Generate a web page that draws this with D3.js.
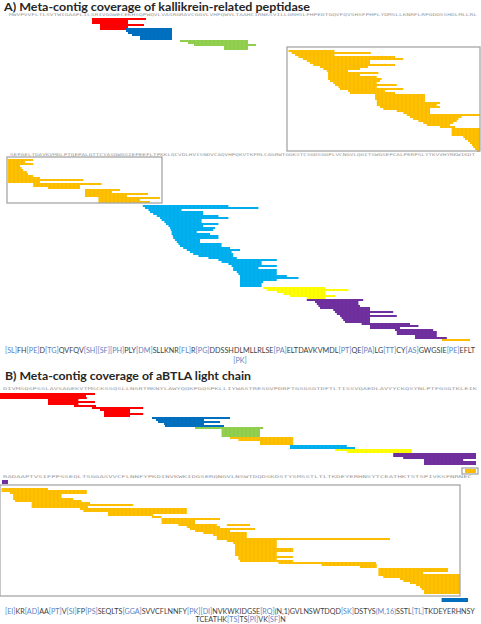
<!DOCTYPE html>
<html><head><meta charset="utf-8">
<script src="https://cdn.jsdelivr.net/npm/d3@7"></script>
<style>body{margin:0;background:#fff}svg{display:block}</style>
</head><body><svg id="c" width="481" height="624"></svg>
<script>
// ---------- text ----------
const titleA = "A) Meta-contig coverage of kallikrein-related peptidase";
const titleB = "B) Meta-contig coverage of aBTLA light chain";
const seqA1 = "MWVPVVFLTLSVTWIGAAPLILSRIVGGWECEKHSQPWQVLVASRGRAVCGGVLVHPQWVLTAAHCIRNKSVILLGRHSLFHPEDTGQVFQVSHSFPHPLYDMSLLKNRFLRPGDDSSHDLMLLRL";
const seqA2 = "SEPAELTDAVKVMDLPTQEPALGTTCYASGWGSIEPEEFLTPKKLQCVDLHVISNDVCAQVHPQKVTKFMLCAGRWTGGKSTCSGDSGGPLVCNGVLQGITSWGSEPCALPERPSLYTKVVHYRKWIKDT";
const seqB1 = "DIVMSQSPSSLAVSAGEKVTMSCKSSQSLLNSRTRKNYLAWYQQKPGQSPKLLIYWASTRESGVPDRFTGSGSGTDFTLTISSVQAEDLAVYYCKQSYNLPTFGSGTKLEIK";
const seqB2 = "RADAAPTVSIFPPSSEQLTSGGASVVCFLNNFYPKDINVKWKIDGSERQNGVLNSWTDQDSKDSTYSMSSTLTLTKDEYERHNSYTCEATHKTSTSPIVKSFNRNEC";
const varA1 = "[SL]FH[PE]D[TG]QVFQV[SH][SF][PH]PLY[DM]SLLKNR[FL]R[PG]DDSSHDLMLLRLSE[PA]ELTDAVKVMDL[PT]QE[PA]LG[TT]CY[AS]GWGSIE[PE]EFLT";
const varA2 = "[PK]";
const varB1 = "[EI]KR[AD]AA[PT]V[SI]FP[PS]SEQLTS[GGA]SVVCFLNNFY[PK][DI]NVKWKIDGSE[RQ](N,1)GVLNSWTDQD[SK]DSTYS(M,16)SSTL[TL]TKDEYERHNSY";
const varB2 = "TCEATHK[TS]TS[PI]VK[SF]N";

const palette = {red:"#ff0000", blue:"#0070c0", green:"#92d050", orange:"#ffc000",
                 cyan:"#00b0f0", yellow:"#ffff00", purple:"#7030a0"};

// ---------- reads: [start residue, end residue, row] ----------
const readsA1Red = [[21,34.5,0],[21,30,1],[21,30,2],[23,34,3],[23,30,4],[23,30,5]];
const readsA1Blue = [[29.5,41,5],[29.5,41,6],[30,41,7],[31,41,8],[33,41,9],[33,41,10]];
const readsA1Green = [[43,60,11],[45,60,12],[46.5,62,13],[54,60,14],[54,60,15]];
const readsA1Orange = [
 [70.1,81.6,16],[70.9,90.7,17],[71.75,81.6,18],[72.6,96.75,19],[73.7,98.8,20],
 [74.7,90.5,21],[75.5,90.5,22],[76.3,96.75,23],[78,90,24],[78.8,88,25],
 [79.7,85,26],[80,92.6,27],[80,88,28],[80,92.2,29],[80,93.4,30],
 [80.5,93,31],[81.3,92.2,32],[81.75,97.2,33],[82.6,92.2,34],[83,98.8,35],
 [85,94.25,36],[85.5,96.75,37],[91.75,104.25,38],[91.75,104.25,39],[91.75,104.25,40],
 [92.2,104.25,41],[92.2,108,42],[92.2,107.2,43],[93,108,44],[93.8,105.5,45],
 [97.2,105.5,46],[98.8,105.5,47],[99.7,118,48],[100.5,113.4,49],[101.3,112.6,50],
 [102.6,112.2,51],[103.8,111.3,52],[104.7,110.5,53],[108,111.75,54],[110.9,118,55],
 [110.9,118,56],[110.9,118,57],[110.9,118,58],[113.8,118,59],[114.25,118,60],
 [115,118,61],[115.5,118,62],[116,118,63],[116.3,118,64],[116.75,118,65],[117.2,118,66]];

const readsA2Orange = [
 [0,6.3,1],[0,4.25,2],[0,6.3,3],[0,3,4],[0,3.4,5],[0,3.8,6],[0,4.7,7],[0,5,8],
 [0,6.3,9],[0,8,10],[0,18.8,11],[0,8,12],[6.3,23.4,13],[6.3,18,14],[10,18,15],
 [19.25,28,16],[19.25,26,17],[19.25,35,18],[19.25,29.7,19],[22.6,38,20],[22.6,33,21],[22.6,35.5,22]];
const readsA2Cyan = [
 [33.7,55.1,24],[34.25,62.6,25],[35.1,43.4,26],[35.5,48.8,27],[36.3,48.8,28],
 [37.2,52.6,29],[38,55.1,30],[38.4,48.4,31],[39.1,48.4,32],[39.5,52.6,33],
 [40.1,48.8,34],[40.5,51.75,35],[40.7,51.3,36],[40.9,47.2,37],[40.9,50.5,38],
 [41.2,52.6,39],[41.3,52.6,40],[41.75,48,41],[42.2,48,42],[42.6,53.4,43],
 [43,53.4,44],[43.8,55.5,45],[44.7,58,46],[45.5,55.9,47],[46.3,56.3,48],
 [47.6,56.3,49],[50.1,57.2,50],[52.6,67.2,51],[53.4,63.4,52],[55.1,63.4,53],
 [55.9,67.2,54],[56.3,62.6,55],[56.3,67.2,56],[57.2,67.2,57],[57.6,67.2,58],
 [58,69.7,59],[58,72.6,60],[58,67.2,61],[58,63.8,62],[58,63.4,63],[58,63.4,64]];
const readsA2Yellow = [[63.8,79.25,65],[64.7,85.1,66],[67.2,79.25,67],[68.8,79.25,68],[70.5,81.75,69],[74.7,79.25,70]];
const readsA2Purple = [
 [74.7,88.8,71],[76.75,87.6,72],[77.2,87.6,73],[77.6,88,74],[78,90.5,75],
 [81.3,90.5,76],[81.75,96.3,77],[82.2,90.5,78],[83,97.2,79],[83.4,90.5,80],
 [83.8,90.5,81],[84.25,90.5,82],[88.4,100.5,83],[90.5,102.6,84],[90.5,98,85],
 [96.75,106.3,86],[97.2,107.2,87],[97.2,107.2,88],[101.75,107.2,89],[101.75,109.7,90]];
const readsA2Orange2 = [[108.5,115.5,91]];

const readsB1Red = [[0,23.75,0],[0,21.5,1],[0,21.7,2],[12,19.6,3],[12,23.75,4],[12,19.6,5],
 [18.5,24,6],[23,35.8,7],[25,32.5,8],[26,32.5,9],[26,35.8,10],[26,32.5,11]];
const readsB1Blue = [[38,57.5,12],[39,51,13],[39.5,55,14],[41,51,15],[41.25,56,16]];
const readsB1Green = [[48.75,65.8,17],[55.4,65,18],[55.4,65,19],[55.4,65,20],[55.4,65,21]];
const readsB1Orange = [[57.5,73.3,22],[59.6,73.3,23],[65,73.3,24],[65,73.3,25]];
const readsB1Cyan = [[72.5,86.7,26],[72.5,88.75,27]];
const readsB1Yellow = [[83.75,103,28],[86.7,103,29]];
const readsB1Purple = [[98.3,119,30],[98.3,119,31],[100.8,119,32],[106,115.8,33],[106,119,34],[106,119,35]];
const readsB1Orange2 = [[116.25,119,38],[116.25,119,39]];

const readsB2Purple = [[0.5,2,0],[0.5,2,1]];
const readsB2Orange = [
 [0.4,12,4],[0.4,21.7,5],[2.5,21.7,6],[3.3,15.4,7],[3.3,15.4,8],[3.3,18.3,9],
 [3.75,20.4,10],[7.9,22.5,11],[7.9,33.3,12],[7.9,22,13],[20,46.7,14],[20.8,46.7,15],
 [27,46.7,16],[27,38.3,17],[38,40.4,18],[40.4,55,19],[40.4,48.75,20],[40.4,48.75,21],
 [44.6,54.2,22],[56.7,62.5,22],[46.7,55,23],[47.5,63.75,24],[48.75,57.5,25],[50.8,61.7,26],
 [53.3,61.7,27],[54.2,61.7,28],[54.2,97.5,29],[56.7,69.2,30],[58.3,69.2,31],[58.75,69.2,32],
 [58.75,69.2,33],[58.75,73.3,34],[58.75,73.3,35],[58.75,69.2,36],[58.75,69.2,37],[59.6,73.3,38],
 [59.6,69.2,39],[60,73.3,40],[69.6,94,41],[80.4,94.2,42],[90,94.2,43],[94.6,112,44],
 [94.6,112,45],[94.6,105.8,46],[94.6,115,47],[95.8,115,48],[100,115,49],[100.8,115,50],
 [102.5,115,51],[104,115,52],[105,115,53],[105.4,115,54],[106,115,55],[106,115,56]];
const readsB2Blue = [[110.4,117,59],[110.4,117,60]];

// boxes: [startRes, endRes, topRow, bottomRow]
const boxesA1 = [[69.75,118,14.5,66.5]];
const boxesA2 = [[-0.25,38.5,0,23]];
const boxesB1 = [[115.5,119.5,37.5,40.5]];
const boxesB2 = [[0,115,2.5,58]];

// ---------- drawing ----------
const svg = d3.select("#c");
const xA = d3.scaleLinear().domain([0,117]).range([8,476]);
const xB = d3.scaleLinear().domain([0,120]).range([0,480]);
const rowScale = top => d3.scaleLinear().domain([0,1]).range([top, top+2]);

const defs = svg.append("defs");
const pat = defs.append("pattern").attr("id","tex").attr("patternUnits","userSpaceOnUse")
  .attr("width",4).attr("height",2);
pat.append("rect").attr("x",1.2).attr("y",0.6).attr("width",1.6).attr("height",0.8)
  .attr("fill","#000").attr("opacity",0.06);

const sections = [
  {x:xA, top:18, seq:seqA1, seqY:15, seqX:[9,477],
   groups:[["red",readsA1Red],["blue",readsA1Blue],["green",readsA1Green],["orange",readsA1Orange]], boxes:boxesA1},
  {x:xA, top:157, seq:seqA2, seqY:155, seqX:[10,475],
   groups:[["orange",readsA2Orange],["cyan",readsA2Cyan],["yellow",readsA2Yellow],["purple",readsA2Purple],["orange",readsA2Orange2]], boxes:boxesA2},
  {x:xB, top:393, seq:seqB1, seqY:389, seqX:[3,477],
   groups:[["red",readsB1Red],["blue",readsB1Blue],["green",readsB1Green],["orange",readsB1Orange],["cyan",readsB1Cyan],["yellow",readsB1Yellow],["purple",readsB1Purple],["orange",readsB1Orange2]], boxes:boxesB1},
  {x:xB, top:480, seq:seqB2, seqY:477, seqX:[3,472],
   groups:[["purple",readsB2Purple],["orange",readsB2Orange],["blue",readsB2Blue]], boxes:boxesB2}
];

sections.forEach(sec => {
  const y = rowScale(sec.top);
  svg.append("text").attr("x",sec.seqX[0]).attr("y",sec.seqY+1.4)
    .attr("font-family","DejaVu Sans Mono").attr("font-size",3.8).attr("fill","#9a9a9a")
    .attr("textLength",sec.seqX[1]-sec.seqX[0]).attr("lengthAdjust","spacingAndGlyphs")
    .text(sec.seq);
  const g = svg.append("g");
  sec.groups.forEach(([col, reads]) => {
    g.selectAll(null).data(reads).join("rect")
      .attr("x", d => sec.x(d[0])).attr("width", d => sec.x(d[1]) - sec.x(d[0]))
      .attr("y", d => y(d[2])).attr("height", d => y(d[2]+1) - y(d[2]))
      .attr("fill", palette[col]);
    g.selectAll(null).data(reads).join("rect")
      .attr("x", d => sec.x(d[0])).attr("width", d => sec.x(d[1]) - sec.x(d[0]))
      .attr("y", d => y(d[2])).attr("height", d => y(d[2]+1) - y(d[2]))
      .attr("fill", "url(#tex)");
  });
  svg.append("g").selectAll("rect").data(sec.boxes).join("rect")
    .attr("x", d => sec.x(d[0])).attr("width", d => sec.x(d[1]) - sec.x(d[0]))
    .attr("y", d => y(d[2])).attr("height", d => y(d[3]) - y(d[2]))
    .attr("fill","none").attr("stroke","#a6a6a6").attr("stroke-width",1.3);
});

// titles
function title(txt, x, yb, w){
  svg.append("text").attr("x",x).attr("y",yb).attr("font-family","Lato")
    .attr("font-weight","bold").attr("font-size",11.5).attr("fill","#262626")
    .attr("textLength",w).attr("lengthAdjust","spacingAndGlyphs").text(txt);
}
title(titleA, 4, 11, 306);
title(titleB, 5, 380, 246);

// variant strings: tokens laid out one after another
function tokenize(txt){ return txt.match(/\[[^\]]*\]|\([^)]*\)|[^\[\(]+/g); }
function measure(txt, fs){
  const t = svg.append("text").attr("font-family","Lato").attr("font-size",fs).text(txt);
  const w = t.node().getComputedTextLength(); t.remove(); return w;
}
function layLine(txt, fs, x, yb){
  tokenize(txt).forEach(tok => {
    const blue = tok[0] === "[" || tok.startsWith("(M");
    const t = svg.append("text").attr("x",x).attr("y",yb)
      .attr("font-family","Lato").attr("font-size",fs)
      .attr("fill", blue ? "#5b83c4" : "#404040").text(tok);
    x += t.node().getComputedTextLength();
  });
}
function variant(main, cont, yb, x0, x1, yb2){
  const fs = 9 * (x1 - x0) / measure(main, 9);
  layLine(main, fs, x0, yb);
  const w2 = measure(cont, fs);
  layLine(cont, fs, (x0 + x1) / 2 - w2 / 2, yb2);
}
variant(varA1, varA2, 352.5, 5, 475, 363);
variant(varB1, varB2, 613.5, 5, 476, 622);
</script></body></html>
